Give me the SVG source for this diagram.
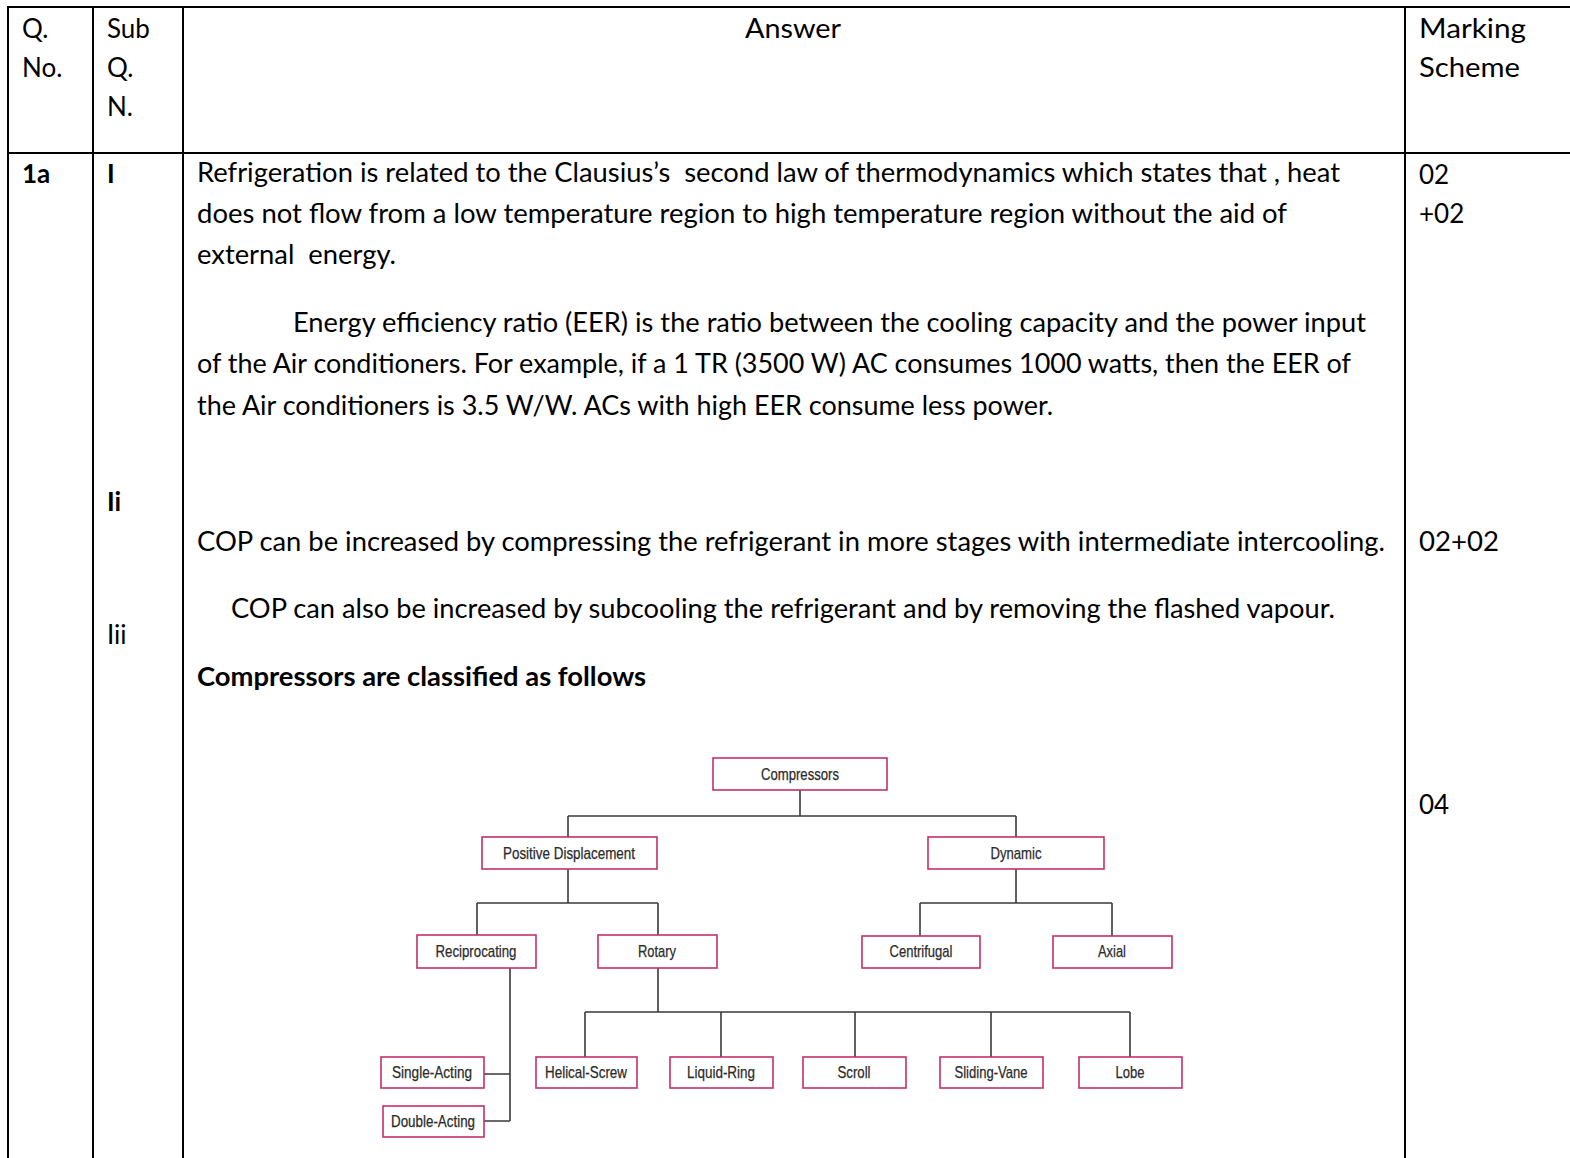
<svg xmlns="http://www.w3.org/2000/svg" width="1570" height="1158" viewBox="0 0 1570 1158">
<style>
.t{font-family:Lato,"Liberation Sans",sans-serif;font-size:26px;fill:#000}
.b{font-weight:bold}
.grid{stroke:#000;stroke-width:2;fill:none}
.box rect{fill:#fff;stroke:#c4306c;stroke-width:1.6}
.box text{font-family:"Liberation Sans Narrow","Liberation Sans",sans-serif;font-size:17px;fill:#2b2b2b;stroke:#2b2b2b;stroke-width:0.25;text-anchor:middle}
.conn{stroke:#3a3a3a;stroke-width:1.6;fill:none}
</style>
<rect width="1570" height="1158" fill="#fff"/>
<g id="table" class="grid">
<line x1="7" y1="7" x2="1570" y2="7"/>
<line x1="7" y1="153" x2="1570" y2="153"/>
<line x1="8" y1="6" x2="8" y2="1158"/>
<line x1="93" y1="6" x2="93" y2="1158"/>
<line x1="183" y1="6" x2="183" y2="1158"/>
<line x1="1405" y1="6" x2="1405" y2="1158"/>
</g>
<g id="header">
<text class="t" x="22" y="38">Q.</text>
<text class="t" x="22" y="77">No.</text>
<text class="t" x="107" y="38">Sub</text>
<text class="t" x="107" y="77">Q.</text>
<text class="t" x="107" y="116">N.</text>
<text class="t" x="745" y="38" textLength="96" lengthAdjust="spacingAndGlyphs">Answer</text>
<text class="t" x="1419" y="38" textLength="107" lengthAdjust="spacingAndGlyphs">Marking</text>
<text class="t" x="1419" y="77" textLength="101" lengthAdjust="spacingAndGlyphs">Scheme</text>
</g>
<g id="body">
<text class="t b" x="22" y="183">1a</text>
<text class="t b" x="107" y="183">I</text>
<text class="t b" x="107" y="511">Ii</text>
<text class="t" x="107" y="644">Iii</text>
<text class="t" x="197" y="182" textLength="1143" lengthAdjust="spacingAndGlyphs" xml:space="preserve">Refrigeration is related to the Clausius’s  second law of thermodynamics which states that , heat</text>
<text class="t" x="197" y="223" textLength="1090" lengthAdjust="spacingAndGlyphs">does not flow from a low temperature region to high temperature region without the aid of</text>
<text class="t" x="197" y="264" textLength="199" lengthAdjust="spacingAndGlyphs" xml:space="preserve">external  energy.</text>
<text class="t" x="293" y="332" textLength="1073" lengthAdjust="spacingAndGlyphs">Energy efficiency ratio (EER) is the ratio between the cooling capacity and the power input</text>
<text class="t" x="197" y="373" textLength="1154" lengthAdjust="spacingAndGlyphs">of the Air conditioners. For example, if a 1 TR (3500 W) AC consumes 1000 watts, then the EER of</text>
<text class="t" x="197" y="415" textLength="856" lengthAdjust="spacingAndGlyphs">the Air conditioners is 3.5 W/W. ACs with high EER consume less power.</text>
<text class="t" x="197" y="551" textLength="1188" lengthAdjust="spacingAndGlyphs">COP can be increased by compressing the refrigerant in more stages with intermediate intercooling.</text>
<text class="t" x="231" y="618" textLength="1104" lengthAdjust="spacingAndGlyphs">COP can also be increased by subcooling the refrigerant and by removing the flashed vapour.</text>
<text class="t b" x="197" y="686" textLength="449" lengthAdjust="spacingAndGlyphs">Compressors are classified as follows</text>
<text class="t" x="1419" y="184">02</text>
<text class="t" x="1419" y="223">+02</text>
<text class="t" x="1419" y="551" textLength="80" lengthAdjust="spacingAndGlyphs">02+02</text>
<text class="t" x="1419" y="814">04</text>
</g>
<g id="connectors" class="conn">
<path d="M800 790V816M568 816H1016M568 816V837M1016 816V837"/>
<path d="M568 869V903M477 903H658M477 903V935M658 903V935"/>
<path d="M1016 869V903M920 903H1112M920 903V936M1112 903V936"/>
<path d="M658 968V1012M585 1012H1130M585 1012V1057M721 1012V1057M855 1012V1057M991 1012V1057M1130 1012V1057"/>
<path d="M510 968V1121M484 1074H510M484 1121H510"/>
</g>
<g id="n-compressors" class="box"><rect x="713" y="758" width="174" height="32"/><text x="800" y="780" textLength="78" lengthAdjust="spacingAndGlyphs">Compressors</text></g>
<g id="n-positive" class="box"><rect x="482" y="837" width="175" height="32"/><text x="569" y="859" textLength="132" lengthAdjust="spacingAndGlyphs">Positive Displacement</text></g>
<g id="n-dynamic" class="box"><rect x="928" y="837" width="176" height="32"/><text x="1016" y="859" textLength="51" lengthAdjust="spacingAndGlyphs">Dynamic</text></g>
<g id="n-reciprocating" class="box"><rect x="417" y="935" width="119" height="33"/><text x="476" y="957" textLength="81" lengthAdjust="spacingAndGlyphs">Reciprocating</text></g>
<g id="n-rotary" class="box"><rect x="598" y="935" width="119" height="33"/><text x="657" y="957" textLength="38" lengthAdjust="spacingAndGlyphs">Rotary</text></g>
<g id="n-centrifugal" class="box"><rect x="862" y="936" width="118" height="32"/><text x="921" y="957" textLength="63" lengthAdjust="spacingAndGlyphs">Centrifugal</text></g>
<g id="n-axial" class="box"><rect x="1053" y="936" width="119" height="32"/><text x="1112" y="957" textLength="28" lengthAdjust="spacingAndGlyphs">Axial</text></g>
<g id="n-single" class="box"><rect x="381" y="1057" width="103" height="31"/><text x="432" y="1078" textLength="80" lengthAdjust="spacingAndGlyphs">Single-Acting</text></g>
<g id="n-double" class="box"><rect x="383" y="1106" width="101" height="31"/><text x="433" y="1127" textLength="84" lengthAdjust="spacingAndGlyphs">Double-Acting</text></g>
<g id="n-helical" class="box"><rect x="536" y="1057" width="101" height="31"/><text x="586" y="1078" textLength="82" lengthAdjust="spacingAndGlyphs">Helical-Screw</text></g>
<g id="n-liquid" class="box"><rect x="670" y="1057" width="103" height="31"/><text x="721" y="1078" textLength="68" lengthAdjust="spacingAndGlyphs">Liquid-Ring</text></g>
<g id="n-scroll" class="box"><rect x="803" y="1057" width="103" height="31"/><text x="854" y="1078" textLength="33" lengthAdjust="spacingAndGlyphs">Scroll</text></g>
<g id="n-sliding" class="box"><rect x="940" y="1057" width="103" height="31"/><text x="991" y="1078" textLength="73" lengthAdjust="spacingAndGlyphs">Sliding-Vane</text></g>
<g id="n-lobe" class="box"><rect x="1079" y="1057" width="103" height="31"/><text x="1130" y="1078" textLength="29" lengthAdjust="spacingAndGlyphs">Lobe</text></g>
</svg>
